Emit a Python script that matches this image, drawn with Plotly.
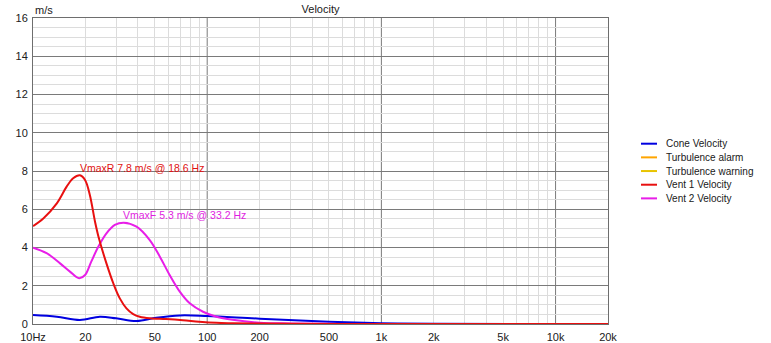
import numpy as np
import plotly.graph_objects as go

# ---- data ----
vent1_freq = [10, 11.46, 13.7, 15.6, 17.0, 18.6, 19.9, 21.2, 22.7, 23.9, 26.4, 28.9, 31.5, 34.4, 37.6, 41, 46.8, 58, 72.6, 90, 113, 140, 200, 300, 500, 1000, 20000]
vent1_vel = [5.12, 5.52, 6.31, 7.18, 7.62, 7.78, 7.53, 6.75, 5.35, 4.48, 3.17, 2.13, 1.34, 0.82, 0.52, 0.38, 0.3, 0.26, 0.2, 0.12, 0.06, 0.04, 0.02, 0.01, 0.0, 0.0, 0.0]

vent2_freq = [10, 11.97, 14.3, 16.3, 18.4, 19.9, 21.6, 23.7, 26.4, 29.5, 33.2, 39.3, 46.8, 53.5, 60.9, 69.6, 79.4, 94.6, 113, 140, 200, 300, 500, 1000, 20000]
vent2_vel = [3.99, 3.7, 3.17, 2.74, 2.39, 2.56, 3.26, 4.04, 4.74, 5.18, 5.3, 5.09, 4.39, 3.52, 2.56, 1.69, 1.08, 0.64, 0.38, 0.22, 0.07, 0.03, 0.01, 0.0, 0.0]

cone_freq = [10, 13.7, 18.6, 24.2, 30, 39.3, 51, 69.6, 100, 200, 500, 1000, 2000, 20000]
cone_vel = [0.47, 0.38, 0.21, 0.38, 0.3, 0.16, 0.33, 0.45, 0.42, 0.28, 0.12, 0.04, 0.01, 0.0]

series_names = ["Cone Velocity", "Turbulence alarm", "Turbulence warning", "Vent 1 Velocity", "Vent 2 Velocity"]
series_colors = ["#0000e0", "#ffa500", "#e8c400", "#e81010", "#e81ee8"]

x_tickvals = [10, 20, 50, 100, 200, 500, 1000, 2000, 5000, 10000, 20000]
x_ticktext = ["10Hz", "20", "50", "100", "200", "500", "1k", "2k", "5k", "10k", "20k"]
decades = [100, 1000, 10000]
y_tickvals = [0, 2, 4, 6, 8, 10, 12, 14, 16]

peakR = (18.6, 7.8)
peakF = (33.2, 5.3)

FONT = "Liberation Sans, Arial, sans-serif"
xmin, xmax = 10, 20000
lmin, lmax = np.log10(xmin), np.log10(xmax)

fig = go.Figure()
series_data = {
    "Cone Velocity": (cone_freq, cone_vel),
    "Turbulence alarm": ([], []),
    "Turbulence warning": ([], []),
    "Vent 1 Velocity": (vent1_freq, vent1_vel),
    "Vent 2 Velocity": (vent2_freq, vent2_vel),
}
draw_order = ["Turbulence alarm", "Turbulence warning", "Cone Velocity", "Vent 2 Velocity", "Vent 1 Velocity"]
for name in draw_order:
    fx, fy = series_data[name]
    c = series_colors[series_names.index(name)]
    fig.add_trace(go.Scatter(x=fx, y=fy, mode="lines", name=name,
                             line=dict(color=c, width=2, shape="spline", smoothing=1.0),
                             showlegend=False, hoverinfo="skip"))

minor_x = [m * 10 ** d for d in range(1, 5) for m in range(2, 10) if m * 10 ** d <= xmax]

fig.update_xaxes(type="log", range=[lmin, lmax], automargin=False,
                 tickmode="array", tickvals=x_tickvals, ticktext=x_ticktext,
                 showgrid=False, zeroline=False,
                 showline=True, linecolor="#6e6e6e", linewidth=1, mirror=True,
                 ticks="outside", ticklen=3, tickcolor="rgba(0,0,0,0)",
                 tickfont=dict(family=FONT, size=11, color="#202020"),
                 minor=dict(tickmode="array", tickvals=minor_x, showgrid=True,
                            gridcolor="#dcdcdc", gridwidth=1, ticks=""))
fig.update_yaxes(range=[0, 16], tickmode="array", tickvals=y_tickvals, automargin=False,
                 showgrid=True, gridcolor="#7a7a7a", gridwidth=1, zeroline=False,
                 showline=True, linecolor="#6e6e6e", linewidth=1, mirror=True,
                 ticks="outside", ticklen=2, tickcolor="rgba(0,0,0,0)",
                 tickfont=dict(family=FONT, size=11, color="#202020"),
                 minor=dict(dtick=0.5, showgrid=True, gridcolor="#dcdcdc", gridwidth=1, ticks=""))

shapes = []
for d in decades:
    fx = (np.log10(d) - lmin) / (lmax - lmin)
    shapes.append(dict(type="line", xref="x domain", yref="y domain", x0=fx, x1=fx, y0=0, y1=1,
                       line=dict(color="#7a7a7a", width=1), layer="below"))

# manual legend
leg_x0, leg_x1, leg_tx = 641, 657, 664
leg_y0, leg_dy = 143.7, 13.67
W, H = 771, 343
ml, mr, mt, mb = 33, 163, 18, 19
pw, ph = W - ml - mr, H - mt - mb

def px2paper(x, y):
    return (x - ml) / pw, 1 - (y - mt) / ph

annotations = []
for i, (name, c) in enumerate(zip(series_names, series_colors)):
    y = leg_y0 + i * leg_dy
    ax0, ay = px2paper(leg_x0, y)
    ax1, _ = px2paper(leg_x1, y)
    shapes.append(dict(type="line", xref="paper", yref="paper", x0=ax0, x1=ax1, y0=ay, y1=ay,
                       line=dict(color=c, width=2)))
    tx, _ = px2paper(leg_tx, y)
    annotations.append(dict(xref="paper", yref="paper", x=tx, y=ay, text=name, showarrow=False,
                            xanchor="left", yanchor="middle",
                            font=dict(family=FONT, size=10, color="#202020")))

annotations.append(dict(xref="x", yref="y", x=np.log10(peakR[0]), y=peakR[1],
                        text=f"VmaxR {peakR[1]} m/s @ {peakR[0]} Hz", showarrow=False,
                        xanchor="left", yanchor="bottom", xshift=-2, yshift=-1,
                        font=dict(family=FONT, size=10.5, color="#e01010")))
annotations.append(dict(xref="x", yref="y", x=np.log10(peakF[0]), y=peakF[1],
                        text=f"VmaxF {peakF[1]} m/s @ {peakF[0]} Hz", showarrow=False,
                        xanchor="left", yanchor="bottom", xshift=-3, yshift=0,
                        font=dict(family=FONT, size=10.5, color="#e01ee0")))
annotations.append(dict(xref="paper", yref="paper", x=0, y=1, text="m/s", showarrow=False,
                        xanchor="left", yanchor="bottom", xshift=0, yshift=0,
                        font=dict(family=FONT, size=11, color="#202020")))

fig.update_layout(
    width=W, height=H,
    margin=dict(l=ml, r=mr, t=mt, b=mb, pad=0, autoexpand=False),
    paper_bgcolor="white", plot_bgcolor="white",
    title=dict(text="Velocity", x=(ml + pw / 2) / W, xanchor="center", y=1 - 9 / H, yanchor="middle",
               automargin=False,
               font=dict(family=FONT, size=11, color="#202020")),
    showlegend=False,
    shapes=shapes, annotations=annotations,
)

fig.write_html("out.html")
